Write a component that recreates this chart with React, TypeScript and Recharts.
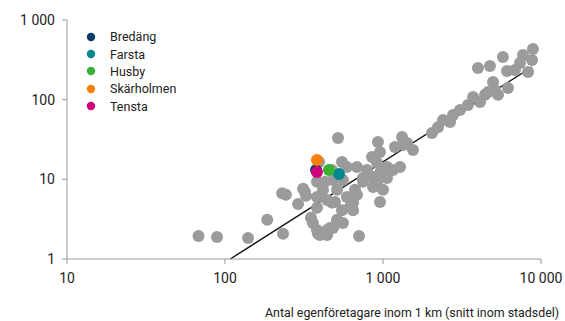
import React from 'react';
import { ScatterChart, Scatter, XAxis, YAxis, ReferenceLine, Legend } from 'recharts';

const xTicks = [10, 100, 1000, 10000];
const yTicks = [1, 10, 100, 1000];
const tickLabels: Record<number, string> = { 1: '1', 10: '10', 100: '100', 1000: '1 000', 10000: '10 000' };
const xAxisTitle = 'Antal egenföretagare inom 1 km (snitt inom stadsdel)';

// Other districts: [egenföretagare inom 1 km, y-value]
const otherDistricts: [number, number][] = [
  [68, 1.95], [89, 1.89], [140, 1.84], [185, 3.1], [233, 2.07], [230, 6.7], [243, 6.4],
  [290, 4.9], [312, 7.6], [326, 6.2], [350, 3.3], [360, 2.84], [382, 2.32], [388, 2.07],
  [382, 4.4], [382, 6.0], [417, 7.4], [443, 2.0], [483, 2.45], [512, 2.84], [558, 2.84],
  [519, 33], [550, 16.5], [394, 16.5], [475, 13.1], [483, 9.8], [443, 5.5], [475, 5.1],
  [512, 7.4], [558, 9.8], [591, 6.0], [618, 4.5], [646, 5.1], [665, 7.4], [684, 14.3],
  [646, 4.1], [705, 1.95], [747, 10.4], [792, 13.1], [852, 19.1], [865, 10.7], [916, 9.0],
  [929, 29.4], [957, 22.1], [957, 5.2], [1000, 7.4], [1060, 14.3], [1156, 13.1], [1191, 25.5],
  [1282, 14.3], [1320, 34], [1419, 28.6], [1549, 23.4], [2042, 38.2], [2228, 45], [2399, 55.6],
  [2657, 52.5], [2773, 64.3], [3070, 74.3], [3448, 86], [3715, 108], [4113, 93.6], [4425, 115],
  [4624, 125], [4970, 167], [5117, 132], [5347, 115], [6180, 140], [6095, 229], [6842, 236],
  [7362, 288], [8280, 223], [7690, 364], [8770, 315], [8890, 433], [5741, 344], [4753, 265],
  [3990, 250], [957, 12.0], [1060, 10.4], [865, 8.0], [747, 9.3], [916, 16.1], [591, 14.3],
  [684, 6.4], [497, 5.2], [462, 2.45], [382, 9.3], [430, 9.3], [1340, 27], [399, 2.0],
  [321, 6.95], [550, 4.1], [512, 3.1], [443, 2.32],
];

const highlightNames = ['Bredäng', 'Farsta', 'Husby', 'Skärholmen', 'Tensta'];
const highlightX = [377, 527, 455, 382, 382];
const highlightY = [13.1, 11.7, 13.1, 17.5, 12.4];
const highlightColors = ['#0b3d6b', '#00878f', '#3cb034', '#fb7d0a', '#d1007b'];

const trendX = [108, 8770];
const trendY = [1, 257];

const grayColor = '#9b9b9c';
const fontFamily = 'Roboto, "Noto Sans", sans-serif';

const otherData = otherDistricts.map(([x, y]) => ({ x, y }));

const dot = (r: number) => (props: any) => (
  <circle cx={props.cx} cy={props.cy} r={r} fill={props.fill} />
);

const LegendContent = () => (
  <div style={{ fontFamily, fontSize: 12.5, color: '#222' }}>
    {highlightNames.map((n, i) => (
      <div key={n} style={{ display: 'flex', alignItems: 'center', height: 17.4 }}>
        <svg width={12} height={12} style={{ marginRight: 13 }}>
          <circle cx={6} cy={6} r={4.2} fill={highlightColors[i]} />
        </svg>
        <span>{n}</span>
      </div>
    ))}
  </div>
);

export default function App() {
  return (
    <div style={{ position: 'absolute', left: 0, top: 0, width: 565, height: 321, background: '#fff' }}>
      <ScatterChart width={565} height={321} margin={{ top: 20, right: 24, left: 0, bottom: 0 }}>
        <XAxis
          dataKey="x"
          type="number"
          scale="log"
          domain={[10, 10000]}
          ticks={xTicks}
          allowDataOverflow
          interval={0}
          tickFormatter={(v: number) => tickLabels[v] ?? String(v)}
          tick={{ fill: '#222', fontSize: 14, fontFamily }}
          tickLine={{ stroke: '#999' }}
          axisLine={{ stroke: '#999' }}
          tickSize={5}
          tickMargin={9}
          height={62}
          label={() => (
            <text x={265} y={317} fontSize={12.4} fill="#222" fontFamily={fontFamily}>
              {xAxisTitle}
            </text>
          )}
        />
        <YAxis
          dataKey="y"
          type="number"
          scale="log"
          domain={[1, 1000]}
          ticks={yTicks}
          allowDataOverflow
          interval={0}
          tickFormatter={(v: number) => tickLabels[v] ?? String(v)}
          tick={{ fill: '#222', fontSize: 14, fontFamily }}
          tickLine={{ stroke: '#999' }}
          axisLine={{ stroke: '#999' }}
          tickSize={5}
          tickMargin={7}
          width={67}
        />
        <Scatter data={otherData} fill={grayColor} shape={dot(6)} isAnimationActive={false} legendType="none" />
        <ReferenceLine
          segment={[{ x: trendX[0], y: trendY[0] }, { x: trendX[1], y: trendY[1] }]}
          stroke="#111"
          strokeWidth={1.4}
          ifOverflow="visible"
        />
        {highlightNames.map((n, i) => (
          <Scatter
            key={n}
            name={n}
            data={[{ x: highlightX[i], y: highlightY[i] }]}
            fill={highlightColors[i]}
            shape={dot(6)}
            isAnimationActive={false}
          />
        ))}
        <Legend
          layout="horizontal"
          verticalAlign="middle"
          align="center"
          wrapperStyle={{ left: 85, top: 28, width: 120, height: 90 }}
          content={LegendContent}
        />
      </ScatterChart>
    </div>
  );
}
